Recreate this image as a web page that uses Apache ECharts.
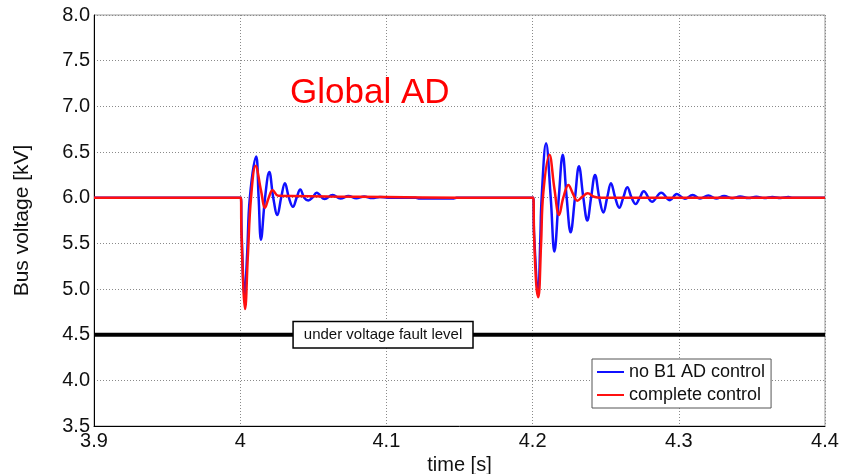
<!DOCTYPE html>
<html>
<head>
<meta charset="utf-8">
<script src="https://cdn.jsdelivr.net/npm/echarts@6/dist/echarts.min.js"></script>
<style>
  html, body { margin: 0; padding: 0; background: #fff; }
  #chart { width: 842px; height: 474px; }
</style>
</head>
<body>
<div id="chart"></div>
<script>
// Bus voltage after two disturbances (t = 4.0 s and t = 4.2 s), [time s, voltage kV]
const noB1Control = [
  [3.9, 6.0], [4.0, 6.0], [4.0005, 6.0], [4.0010, 5.6], [4.0030, 4.92], [4.0048, 5.4],
  [4.0066, 6.0], [4.0109, 6.45], [4.0126, 6.0], [4.0142, 5.54], [4.0170, 6.0],
  [4.0199, 6.28], [4.0226, 6.0], [4.0254, 5.81], [4.0280, 6.0], [4.0306, 6.157],
  [4.0333, 6.0], [4.0361, 5.90], [4.0386, 6.0], [4.0411, 6.09], [4.0438, 6.0],
  [4.0466, 5.97], [4.0494, 6.0], [4.0523, 6.055], [4.0578, 5.985], [4.0632, 6.03],
  [4.0686, 5.99], [4.0740, 6.018], [4.0794, 5.993], [4.0848, 6.012], [4.0902, 5.995],
  [4.0956, 6.008], [4.1010, 6.0], [4.1200, 6.0], [4.1220, 5.992], [4.1460, 5.992],
  [4.1480, 6.0], [4.2, 6.0],
  [4.2005, 6.0], [4.2010, 5.6], [4.2039, 4.99], [4.2052, 5.5], [4.2062, 6.0],
  [4.2092, 6.595], [4.2124, 6.0], [4.2149, 5.41], [4.2179, 6.0], [4.2206, 6.47],
  [4.2233, 6.0], [4.2260, 5.62], [4.2290, 6.0], [4.2317, 6.343], [4.2347, 6.0],
  [4.2374, 5.75], [4.2400, 6.0], [4.2427, 6.248], [4.2456, 6.0], [4.2484, 5.837],
  [4.2510, 6.0], [4.2536, 6.157], [4.2565, 6.0], [4.2593, 5.89], [4.2620, 6.0],
  [4.2648, 6.113], [4.2677, 6.0], [4.2705, 5.93], [4.2733, 6.0], [4.2760, 6.07],
  [4.2817, 5.955], [4.2880, 6.054], [4.2940, 5.972], [4.2986, 6.04], [4.3042, 5.988],
  [4.3095, 6.03], [4.3145, 5.99], [4.3202, 6.025], [4.3255, 5.99], [4.3310, 6.018],
  [4.3365, 5.993], [4.3420, 6.013], [4.3475, 5.995], [4.3530, 6.01], [4.3585, 5.996],
  [4.3640, 6.008], [4.3695, 5.997], [4.3750, 6.006], [4.3780, 6.0], [4.4, 6.0]
];

const completeControl = [
  [3.9, 6.0], [4.0, 6.0], [4.0005, 6.0], [4.0008, 5.65], [4.0022, 5.0], [4.0033, 4.78],
  [4.0052, 5.35], [4.0074, 6.0], [4.0106, 6.35], [4.0142, 6.08], [4.0170, 5.89],
  [4.0195, 6.0], [4.0222, 6.08], [4.0260, 6.02], [4.0350, 6.018], [4.0600, 6.012],
  [4.1000, 6.006], [4.1500, 6.0], [4.2, 6.0],
  [4.2005, 6.0], [4.2010, 5.6], [4.2025, 5.05], [4.2039, 4.91], [4.2058, 5.5],
  [4.2073, 6.05], [4.2115, 6.47], [4.2149, 6.1], [4.2181, 5.81], [4.2210, 6.0],
  [4.2245, 6.14], [4.2274, 6.05], [4.2306, 5.967], [4.2340, 6.01], [4.2377, 6.047],
  [4.2420, 6.01], [4.2470, 6.0], [4.4, 6.0]
];

const faultLevel = [[3.9, 4.5], [4.4, 4.5]];
const faultLabel = 'under voltage fault level';
const faultLabelTime = 4.0977;

const timeRange = [3.9, 4.4];
const timeStep = 0.1;
const voltageRange = [3.5, 8.0];
const voltageStep = 0.5;

const FONT = "'Liberation Sans', Arial, sans-serif";
const gridDots = { color: '#8a8a8a', width: 1, type: [1, 2] };

const chart = echarts.init(document.getElementById('chart'), null, { renderer: 'canvas' });

chart.setOption({
  animation: false,
  backgroundColor: '#fff',
  textStyle: { fontFamily: FONT },
  grid: {
    left: 94, right: 17, top: 15, bottom: 48,
    outerBoundsMode: 'none', containLabel: false,
    show: true, borderColor: '#9a9a9a', borderWidth: 1, backgroundColor: '#fff'
  },
  graphic: [{
    type: 'text', left: 290, top: 76, z: 10,
    style: { text: 'Global AD', fill: '#ff0000', font: "35px 'Liberation Sans', Arial, sans-serif" }
  }],
  legend: {
    orient: 'vertical', left: 592, top: 359,
    backgroundColor: '#fff', borderColor: '#555', borderWidth: 1,
    padding: [4, 6, 4, 5], itemGap: 5, itemWidth: 27, itemHeight: 2, icon: 'rect',
    textStyle: { fontSize: 18, color: '#111', fontFamily: FONT },
    data: ['no B1 AD control', 'complete control']
  },
  xAxis: {
    type: 'value', min: timeRange[0], max: timeRange[1], interval: timeStep,
    name: 'time [s]', nameLocation: 'middle', nameGap: 27,
    nameTextStyle: { fontSize: 20, color: '#111', fontFamily: FONT },
    axisLine: { show: true, onZero: false, lineStyle: { color: '#000', width: 1 } },
    axisTick: { show: false },
    axisLabel: {
      fontSize: 20, color: '#111', margin: 5, fontFamily: FONT,
      formatter: v => String(+v.toFixed(1))
    },
    splitLine: { show: true, lineStyle: gridDots }
  },
  yAxis: {
    type: 'value', min: voltageRange[0], max: voltageRange[1], interval: voltageStep,
    name: 'Bus voltage [kV]', nameLocation: 'middle', nameGap: 61,
    nameTextStyle: { fontSize: 21, color: '#111', fontFamily: FONT },
    axisLine: { show: true, onZero: false, lineStyle: { color: '#000', width: 1 } },
    axisTick: { show: false },
    axisLabel: {
      fontSize: 20, color: '#111', margin: 4, fontFamily: FONT,
      formatter: v => v.toFixed(1)
    },
    splitLine: { show: true, lineStyle: gridDots }
  },
  series: [
    {
      name: 'fault level', type: 'line', data: faultLevel, symbol: 'none', z: 3,
      lineStyle: { color: '#000', width: 4 }, silent: true,
      markPoint: {
        symbol: 'rect', symbolSize: 0.1,
        itemStyle: { color: 'transparent' },
        label: {
          show: true, position: 'inside', formatter: faultLabel,
          fontSize: 15, color: '#111', fontFamily: FONT,
          backgroundColor: '#fff', borderColor: '#000', borderWidth: 1.5,
          padding: [5, 10, 5, 10]
        },
        data: [{ coord: [faultLabelTime, 4.5] }]
      }
    },
    {
      name: 'no B1 AD control', type: 'line', data: noB1Control, symbol: 'none',
      smooth: 0.4, z: 4, color: '#1010ff',
      lineStyle: { color: '#1010ff', width: 2.5 }
    },
    {
      name: 'complete control', type: 'line', data: completeControl, symbol: 'none',
      smooth: 0.4, z: 5, color: '#ff1010',
      lineStyle: { color: '#ff1010', width: 2.5 }
    }
  ]
});
</script>
</body>
</html>
